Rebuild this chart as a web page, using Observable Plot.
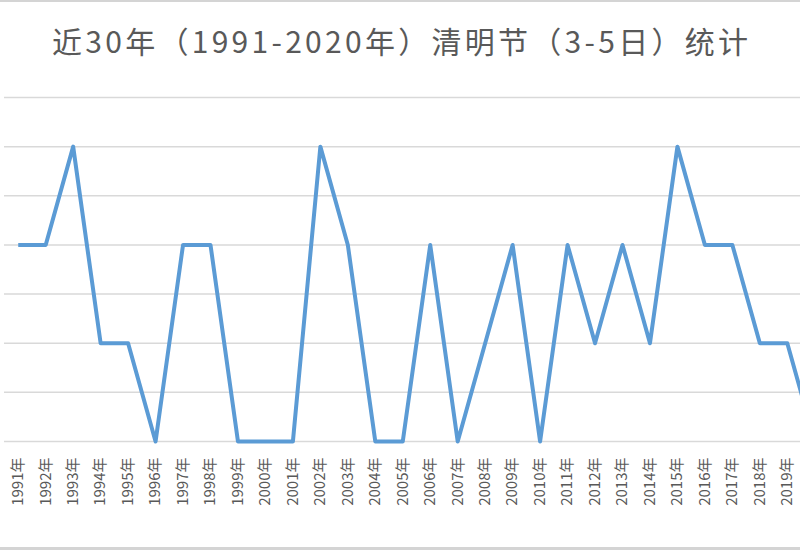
<!DOCTYPE html>
<html>
<head>
<meta charset="utf-8">
<script src="https://cdn.jsdelivr.net/npm/d3@7"></script>
<script src="https://cdn.jsdelivr.net/npm/@observablehq/plot@0.6"></script>
<style>
  html, body { margin: 0; padding: 0; background: #fff; }
  #wrap { position: relative; width: 800px; height: 550px; overflow: hidden; background: #fff; }
  #title { position: absolute; left: 0; top: 20px; width: 800px; text-align: center;
           font-family: "Noto Sans CJK SC", sans-serif; font-size: 30px; color: #595959;
           line-height: 40px; white-space: nowrap; z-index: 2; }
  #title span { display: inline-block; }
  #chart { position: absolute; left: 0; top: 0; width: 830px; }
  #chart svg { max-width: none; }
  #topline { position: absolute; left: 0; top: 0; width: 800px; height: 2px; background: #d4d4d4; z-index: 3; }
  #botline { position: absolute; left: 0; top: 547px; width: 800px; height: 3px; background: #d4d4d4; z-index: 3; }
</style>
</head>
<body>
<div id="wrap">
  <div id="topline"></div>
  <div id="title"><span id="titletext">近30年（1991-2020年）清明节（3-5日）统计</span></div>
  <div id="chart"></div>
  <div id="botline"></div>
</div>
<script>
const years = ["1991年","1992年","1993年","1994年","1995年","1996年","1997年","1998年","1999年","2000年",
               "2001年","2002年","2003年","2004年","2005年","2006年","2007年","2008年","2009年","2010年",
               "2011年","2012年","2013年","2014年","2015年","2016年","2017年","2018年","2019年","2020年"];
const values = [4,4,6,2,2,0,4,4,0,0,
                0,6,4,0,0,4,0,2,4,0,
                4,2,4,2,6,4,4,2,2,0];
const gridTicks = [0,1,2,3,4,5,6,7];

const data = years.map((y, i) => ({year: y, value: values[i]}));

const chart = Plot.plot({
  width: 830,
  height: 550,
  marginTop: 97,
  marginBottom: 109,
  marginLeft: 4,
  marginRight: 2,
  style: {background: "transparent", fontFamily: "'Noto Sans CJK SC', sans-serif", maxWidth: "none"},
  x: {type: "point", domain: years, padding: 0.5, round: false},
  y: {domain: [0, 7]},
  marks: [
    Plot.gridY(gridTicks, {stroke: "#d9d9d9", strokeOpacity: 1, strokeWidth: 1.5}),
    Plot.axisY({ticks: [], label: null}),
    Plot.axisX({tickRotate: -90, tickSize: 0, tickPadding: 16, label: null,
                fontSize: 15, fill: "#595959"}),
    Plot.line(data, {x: "year", y: "value", stroke: "#5b9bd5", strokeWidth: 4,
                     strokeLinejoin: "round", strokeLinecap: "butt"})
  ]
});
chart.style.maxWidth = "none";
document.getElementById("chart").appendChild(chart);

// stretch title spacing to the reference's width
const t = document.getElementById("titletext");
const n = t.textContent.length;
const w = t.getBoundingClientRect().width;
const target = 696;
t.style.letterSpacing = ((target - w) / (n - 1)) + "px";
t.style.marginRight = (-(target - w) / (n - 1)) + "px";
</script>
</body>
</html>
